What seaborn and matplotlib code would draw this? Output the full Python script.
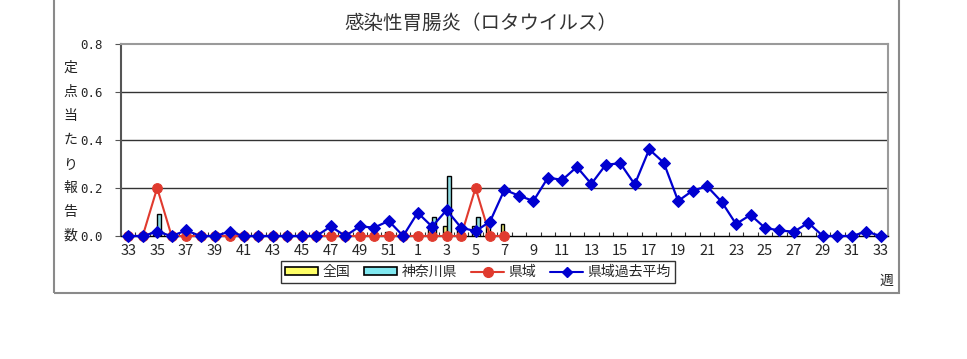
import matplotlib
matplotlib.use('Agg')
import matplotlib.pyplot as plt
import seaborn as sns
import numpy as np
import pandas as pd
from matplotlib.patches import Patch, Rectangle
from matplotlib.lines import Line2D

# 週（33週〜翌年33週）
weeks = list(range(33, 53)) + list(range(1, 34))

# 県域過去平均
past_avg = [0, 0, 0.018, 0, 0.023, 0, 0, 0.018, 0, 0, 0, 0, 0, 0, 0.04, 0, 0.04, 0.035, 0.063, 0,
            0.097, 0.039, 0.108, 0.035, 0.02, 0.06, 0.193, 0.168, 0.146, 0.243, 0.234, 0.288, 0.217,
            0.297, 0.303, 0.215, 0.361, 0.306, 0.146, 0.189, 0.207, 0.143, 0.05, 0.088, 0.034, 0.023,
            0.018, 0.055, 0, 0, 0, 0.018, 0]

# 県域（33週〜7週）
pref_area = [0, 0, 0.2, 0, 0, 0, 0, 0, 0, 0, 0, 0, 0, 0, 0, 0, 0, 0, 0, 0,
             0, 0, 0, 0, 0.2, 0, 0]

# 全国
national = [0.002, 0.002, 0.003, 0.002, 0.002, 0.002, 0.002, 0.002, 0.002, 0.002, 0.002, 0.002,
            0.002, 0.002, 0.003, 0.003, 0.004, 0.006, 0.015, 0.005,
            0.01, 0.03, 0.04, 0.03, 0.04, 0.045, 0.05]

# 神奈川県
kanagawa = [0, 0, 0.09, 0, 0, 0, 0, 0, 0, 0, 0, 0, 0, 0, 0, 0, 0, 0, 0, 0,
            0, 0.08, 0.25, 0, 0.08, 0, 0]

series_names = ['全国', '神奈川県', '県域', '県域過去平均']
colors = {'全国': '#FFFF66', '神奈川県': '#80E8F0', '県域': '#E03A2E', '県域過去平均': '#0000D0'}

n = len(weeks)
idx = np.arange(n)

bar_df = pd.DataFrame({
    'idx': list(idx[:len(national)]) * 2,
    'value': national + kanagawa,
    'series': ['全国'] * len(national) + ['神奈川県'] * len(kanagawa),
})

sns.set_theme(style='white')
plt.rcParams['font.family'] = ['Noto Sans CJK JP', 'DejaVu Sans']

fig = plt.figure(figsize=(9.67, 3.59), dpi=100)
ax = fig.add_axes([0.1251, 0.3426, 0.7932, 0.5348])

sns.barplot(data=bar_df, x='idx', y='value', hue='series', order=list(idx),
            hue_order=['全国', '神奈川県'], palette=colors, width=0.55,
            edgecolor='black', linewidth=1, legend=False, ax=ax, zorder=3)

sns.lineplot(x=idx[:len(pref_area)], y=pref_area, color=colors['県域'], marker='o',
             markersize=7, markeredgecolor=colors['県域'], linewidth=1.5, ax=ax,
             clip_on=False, zorder=4)
sns.lineplot(x=idx, y=past_avg, color=colors['県域過去平均'], marker='D',
             markersize=6, markeredgecolor=colors['県域過去平均'], linewidth=1.6, ax=ax,
             clip_on=False, zorder=5)

ax.set_xlim(-0.5, n - 0.5)
ax.set_ylim(0, 0.8)
ax.set_xlabel('')
ax.set_ylabel('')

# 目盛
ax.set_xticks(idx[::2])
ax.set_xticklabels([str(w) for w in weeks[::2]], fontsize=10.5)
ax.set_xticks(np.arange(-0.5, n, 1), minor=True)
ax.tick_params(axis='x', which='major', length=0, pad=6)
ax.tick_params(axis='x', which='minor', direction='in', length=3, width=0.8, color='#333333',
               bottom=True)
ax.set_yticks([0, 0.2, 0.4, 0.6, 0.8])
ax.set_yticklabels(['0.0', '0.2', '0.4', '0.6', '0.8'], fontsize=9, family='DejaVu Sans Mono')
ax.tick_params(axis='y', direction='out', length=4, width=0.8, color='#555555', left=True, pad=9)

for y in [0.2, 0.4, 0.6]:
    ax.axhline(y, color='#333333', linewidth=1, zorder=1)

for side in ['top', 'right']:
    ax.spines[side].set_color('#9a9a9a')
    ax.spines[side].set_linewidth(1.5)
ax.spines['left'].set_color('#555555')
ax.spines['left'].set_linewidth(1.5)
ax.spines['bottom'].set_color('black')
ax.spines['bottom'].set_linewidth(1)

# 縦書きの軸ラベル
ylab = '定点当たり報告数'
for k, ch in enumerate(ylab):
    ax.text(-0.066, 0.7 - 0.1 * k, ch, transform=ax.get_yaxis_transform(),
            ha='center', va='center', fontsize=10, color='#222222')

fig.text(0.497, 0.936, '感染性胃腸炎（ロタウイルス）', ha='center', va='center',
         fontsize=14, color='#333333')
fig.text(0.917, 0.218, '週', ha='center', va='center', fontsize=10, color='#222222')

handles = [
    Patch(facecolor=colors['全国'], edgecolor='black', linewidth=1.2),
    Patch(facecolor=colors['神奈川県'], edgecolor='black', linewidth=1.2),
    Line2D([], [], color=colors['県域'], marker='o', markersize=7, linewidth=1.5),
    Line2D([], [], color=colors['県域過去平均'], marker='D', markersize=5, linewidth=1.5),
]
leg = ax.legend(handles, series_names, loc='center', bbox_to_anchor=(0.4654, -0.1875),
                ncol=4, fontsize=10, frameon=True, fancybox=False, framealpha=1,
                edgecolor='#333333', handlelength=2.4, handleheight=0.5,
                columnspacing=1.0, handletextpad=0.3, borderpad=0.3)
leg.get_frame().set_linewidth(1)

# 外枠
fig.patches.append(Rectangle((0.0558, 0.1838), 0.8739, 0.83, transform=fig.transFigure,
                             fill=False, edgecolor='#8a8a8a', linewidth=1.5))

fig.savefig('out.png', dpi=100, facecolor='white')
